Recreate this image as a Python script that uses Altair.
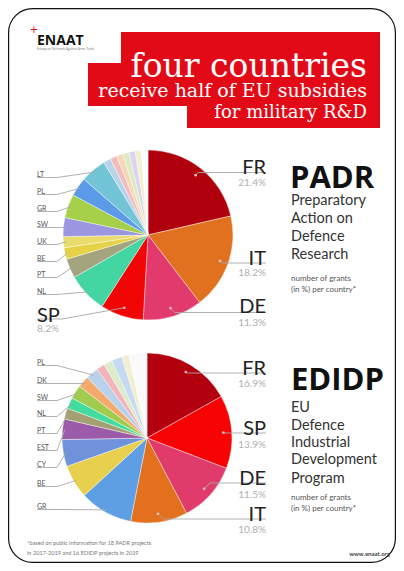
import math
import altair as alt
import pandas as pd

# ---------------- data ----------------
padr_countries = ["FR", "IT", "DE", "SP", "NL", "PT", "BE", "UK", "SW", "GR", "PL", "LT",
                  "o1", "o2", "o3", "o4", "o5", "o6", "o7"]
padr_values = [21.4, 18.2, 11.3, 8.2, 7.6, 3.7, 2.2, 2.1, 3.6, 4.5, 3.6, 4.9,
               1.4, 1.3, 1.2, 1.2, 1.2, 1.1, 1.3]
padr_colors = ["#b0000e", "#e2711f", "#e23a6c", "#f20505", "#44d6a2", "#a4a47e", "#e6d246",
               "#e9dc6c", "#9c96e0", "#a6cf4a", "#5a9ae6", "#72c4d6",
               "#b9d3ea", "#f2bcbc", "#f6d7b8", "#dcebc0", "#dad4f0", "#f3efcf", "#fafafa"]

edidp_countries = ["FR", "SP", "DE", "IT", "GR", "BE", "CY", "EST", "PT", "NL", "SW", "DK", "PL",
                   "o1", "o2", "o3", "o4", "o5"]
edidp_values = [16.9, 13.9, 11.5, 10.8, 10.1, 6.4, 5.1, 3.9, 2.1, 2.1, 2.6, 2.2, 2.4,
                1.6, 1.6, 2.0, 1.4, 3.4]
edidp_colors = ["#b2000f", "#f70303", "#e13b6b", "#e2701d", "#5e9ee4", "#e6d04e", "#6e93da",
                "#9b5ba9", "#a3a173", "#43dc9e", "#9fcb4e", "#f4aa6c", "#b9d2ec",
                "#f2b3bb", "#dcebc9", "#c4dbf2", "#f2eed2", "#fafafa"]

# ---------------- layout (page coordinates) ----------------
W, H = 388, 555
def P(v):
    return v - 8

R = 85
PADR_C = (148, 235)
EDIDP_C = (147, 438)

padr_left = {"LT": 175, "PL": 192, "GR": 209, "SW": 225, "UK": 242, "BE": 259, "PT": 275, "NL": 292}
edidp_left = {"PL": 363, "DK": 381, "SW": 398, "NL": 414, "PT": 431, "EST": 448, "CY": 465, "BE": 484, "GR": 507}
# country: (label baseline, line y, pct baseline)
padr_right = {"FR": (168, 172.5, 183), "IT": (259, 263, 273), "DE": (307, 312.5, 323)}
edidp_right = {"FR": (369, 373, 384), "SP": (429, 433, 445), "DE": (479, 483, 495), "IT": (515, 519, 530)}
RIGHT_X = 266
LEFT_X = 37


def slice_point(countries, values, name, center, rad):
    i = countries.index(name)
    total = sum(values)
    mid = (sum(values[:i]) + values[i] / 2) / total * 2 * math.pi
    return center[0] + rad * math.sin(mid), center[1] - rad * math.cos(mid)


def pie_df(countries, values, colors):
    return pd.DataFrame({"country": countries, "value": values, "color": colors,
                         "idx": list(range(len(values)))})


lines = []   # leader lines
dots = []
small_txt = []
big_txt = []
pct_txt_r = []
pct_txt_l = []
big_txt_l = []

def add_line(key, pts):
    for j, (x, y) in enumerate(pts):
        lines.append({"k": key, "seq": j, "x": P(x), "y": P(y)})

for cs, vs, center, left, right, tag in [
        (padr_countries, padr_values, PADR_C, padr_left, padr_right, "p"),
        (edidp_countries, edidp_values, EDIDP_C, edidp_left, edidp_right, "e")]:
    for name, yb in left.items():
        sx, sy = slice_point(cs, vs, name, center, R * 0.97)
        add_line(tag + name, [(LEFT_X, yb + 2.5), (57, yb + 2.5), (sx, sy)])
        small_txt.append({"x": P(LEFT_X), "y": P(yb), "t": name})
    for name, (yb, ly, pb) in right.items():
        sx, sy = slice_point(cs, vs, name, center, R * 0.9)
        ex = sx + abs(ly - sy)
        add_line(tag + name, [(sx, sy), (ex, ly), (RIGHT_X, ly)])
        dots.append({"x": P(sx), "y": P(sy)})
        big_txt.append({"x": P(RIGHT_X), "y": P(yb), "t": name})
        v = vs[cs.index(name)]
        pct_txt_r.append({"x": P(RIGHT_X), "y": P(pb), "t": f"{v}%"})

# SP label of PADR on the left side
sx, sy = slice_point(padr_countries, padr_values, "SP", PADR_C, R * 0.9)
add_line("pSP", [(sx, sy), (62, 319), (LEFT_X, 319)])
dots.append({"x": P(sx), "y": P(sy)})
big_txt_l.append({"x": P(LEFT_X), "y": P(316), "t": "SP"})
pct_txt_l.append({"x": P(LEFT_X), "y": P(329), "t": f"{padr_values[padr_countries.index('SP')]}%"})

one = pd.DataFrame({"a": [0]})

def box(x1, x2, y1, y2, **kw):
    return alt.Chart(one).mark_rect(**kw).encode(
        x=alt.value(P(x1)), x2=alt.value(P(x2)), y=alt.value(P(y1)), y2=alt.value(P(y2)))

def txt(rows, **kw):
    return alt.Chart(pd.DataFrame(rows)).mark_text(**kw).encode(
        x=alt.X("x:Q", scale=None, axis=None),
        y=alt.Y("y:Q", scale=None, axis=None),
        text=alt.Text("t:N"))

def pie(df, c):
    return alt.Chart(df).mark_arc(outerRadius=R, stroke="white", strokeWidth=0.4).encode(
        theta=alt.Theta("value:Q", stack=True),
        color=alt.Color("color:N", scale=None),
        order=alt.Order("idx:Q"),
        x=alt.value(P(c[0])), y=alt.value(P(c[1])))

RED = "#e30a17"
border = box(8.6, 395.4, 8.6, 562.4, fill="white", stroke="#111", strokeWidth=1.2, cornerRadius=24)
red1 = box(121, 380, 32, 64, fill=RED)
red2 = box(88, 380, 63, 106, fill=RED)
red3 = box(187, 380, 105, 128, fill=RED)

title = alt.Chart(pd.DataFrame([
    {"x": P(367), "y": P(67), "t": "four countries", "s": 33},
    {"x": P(367), "y": P(91), "t": "receive half of EU subsidies", "s": 19},
    {"x": P(367), "y": P(113), "t": "for military R&D", "s": 18},
])).mark_text(align="right", font="DejaVu Serif", color="white").encode(
    x=alt.X("x:Q", scale=None, axis=None), y=alt.Y("y:Q", scale=None, axis=None),
    text=alt.Text("t:N"), size=alt.Size("s:Q", scale=None))

logo = txt([{"x": P(37), "y": P(41), "t": "ENAAT"}], align="left", font="Open Sans",
           fontWeight="bold", fontSize=14, color="#111")
logo_cross = txt([{"x": P(34), "y": P(30), "t": "+"}], align="center", font="DejaVu Sans",
                 fontSize=10, color=RED)
logo_sub = txt([{"x": P(37), "y": P(49), "t": "European Network Against Arms Trade"}], align="left",
               font="Lato", fontSize=3.4, color="#888")

leader = alt.Chart(pd.DataFrame(lines)).mark_line(color="#a8a8a8", strokeWidth=0.9).encode(
    x=alt.X("x:Q", scale=None, axis=None), y=alt.Y("y:Q", scale=None, axis=None),
    detail="k:N", order="seq:Q")
dot = alt.Chart(pd.DataFrame(dots)).mark_circle(size=7, color="#f3d0d0", opacity=0.9).encode(
    x=alt.X("x:Q", scale=None, axis=None), y=alt.Y("y:Q", scale=None, axis=None))

left_small = txt(small_txt, align="left", font="Lato", fontSize=7, color="#555")
right_big = txt(big_txt, align="right", font="Lato", fontSize=20, color="#222")
left_big = txt(big_txt_l, align="left", font="Lato", fontSize=20, color="#222")
right_pct = txt(pct_txt_r, align="right", font="Lato", fontSize=10, color="#b0b0b0")
left_pct = txt(pct_txt_l, align="left", font="Lato", fontSize=10, color="#b0b0b0")

heads = txt([{"x": P(290), "y": P(179), "t": "PADR"}, {"x": P(291), "y": P(381), "t": "EDIDP"}],
            align="left", font="Open Sans", fontWeight="bold", fontSize=31, color="#111")
desc_rows = [(201, "Preparatory"), (219, "Action on"), (237, "Defence"), (255, "Research"),
             (408, "EU"), (426, "Defence"), (443, "Industrial"), (460, "Development"), (479, "Program")]
desc = txt([{"x": P(291), "y": P(y), "t": t} for y, t in desc_rows],
           align="left", font="Lato", fontSize=14.5, color="#333")
note_rows = [(279, "number of grants"), (290, "(in %) per country*"),
             (498, "number of grants"), (509, "(in %) per country*")]
notes = txt([{"x": P(291), "y": P(y), "t": t} for y, t in note_rows],
            align="left", font="Lato", fontSize=8, color="#555")
foot = txt([{"x": P(27), "y": P(543), "t": "*based on public information for 18 PADR projects"},
            {"x": P(27), "y": P(553), "t": "in 2017-2019 and 16 EDIDP projects in 2019"}],
           align="left", font="Lato", fontSize=5.6, color="#777")
www = txt([{"x": P(390), "y": P(554), "t": "www.enaat.org"}], align="right", font="Lato",
          fontWeight="bold", fontSize=6, color="#444")

chart = alt.layer(
    border, red1, red2, red3, title, logo, logo_cross, logo_sub,
    pie(pie_df(padr_countries, padr_values, padr_colors), PADR_C),
    pie(pie_df(edidp_countries, edidp_values, edidp_colors), EDIDP_C),
    leader, dot, left_small, right_big, left_big, right_pct, left_pct,
    heads, desc, notes, foot, www,
).resolve_scale(theta="independent").properties(
    width=W, height=H, autosize=alt.AutoSizeParams(type="none"), padding=0,
    background="white"
).configure_view(strokeWidth=0)

chart.save("out.html", embed_options={"renderer": "svg", "actions": False})
